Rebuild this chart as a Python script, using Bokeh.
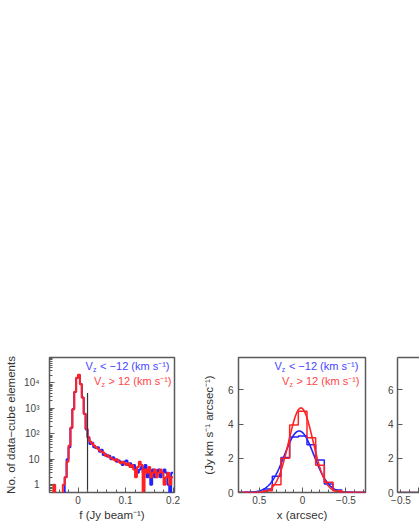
import numpy as np
from bokeh.plotting import figure
from bokeh.layouts import row
from bokeh.models import Range1d, FixedTicker, LinearAxis
from bokeh.core.properties import value
from bokeh.embed import file_html
from bokeh.resources import INLINE

# ---------------- data ----------------
# Panel 1: pixel-value histograms (bins of 0.004 Jy/beam starting at -0.06)
flux_bin_start = -0.06
flux_bin_width = 0.004
counts_neg = [0, 0, 0, 0, 0, 0, 0, 0, 2, 10, 30, 170, 950, 4400, 15500, 20500,
              9200, 2700, 620, 150, 70, 40, 45, 30, 28, 30, 20, 24, 15, 16, 13,
              14, 10, 12, 10, 8, 9, 8, 6, 8, 9, 6, 7, 5, 6, 4, 3, 4, 5, 3, 6, 2,
              4, 1, 4, 2, 3, 4, 2, 3, 4, 3, 1, 0, 3]
counts_pos = [0, 0, 1, 0, 0, 0, 0, 1, 2, 8, 35, 180, 900, 4500, 16000, 21000,
              9000, 2600, 600, 160, 75, 50, 42, 35, 30, 26, 22, 20, 18, 14, 15,
              12, 11, 10, 9, 10, 8, 7, 8, 7, 6, 7, 5, 6, 4, 2, 5, 8, 6, 0, 4, 3,
              5, 2, 3, 4, 2, 3, 4, 3, 1, 2, 3, 1, 2]
flux_threshold = 0.02
flux_threshold_top = 4000
flux_ticks = [0, 0.1, 0.2]
flux_tick_labels = ["0", "0.1", "0.2"]
count_ticks = [1, 10, 100, 1000, 10000]
count_tick_labels = ["1", "10", "10²", "10³", "10⁴"]

# Panel 2: spatial profiles (bins of 0.1 arcsec)
offset_centers = [-0.7, -0.6, -0.5, -0.4, -0.3, -0.2, -0.1, 0.0, 0.1, 0.2, 0.3, 0.4, 0.5, 0.6, 0.7]
offset_bin_width = 0.1
profile_neg = [0, 0, 0, 0.15, 0.5, 1.9, 2.8, 3.3, 3.25, 2.05, 0.95, 0.2, 0, 0, 0]
profile_pos = [0, 0, 0, 0.1, 0.6, 1.6, 3.2, 4.75, 3.95, 2.0, 0.45, 0.1, 0, 0, 0]
fit_neg = dict(amp=3.6, mean=0.04, sigma=0.17)
fit_pos = dict(amp=4.95, mean=0.02, sigma=0.14)
offset_ticks = [-0.5, 0, 0.5]
offset_tick_labels = ["−0.5", "0", "0.5"]
profile_ticks = [0, 2, 4, 6]

# Panel 3 (cut off at the page edge): only its empty edge is visible
panel3_centers = [-0.7, -0.6, -0.5]
panel3_neg = [0, 0, 0]
panel3_pos = [0, 0, 0]

legend_v = "V"
legend_sub = "z"
legend_rel = ["< −12 (km s⁻¹)", "> 12 (km s⁻¹)"]

# ---------------- style ----------------
FONT = "Liberation Sans"
FRAME = "#5a5a5a"
BLUE = "#2222ff"
RED = "#ff2222"
BLUE_T = "#4646ff"
RED_T = "#ff4646"
H = 523
TOP = 357
BOT = 29


def base_fig(width, xr, yr, left, right, y_type="linear"):
    p = figure(width=width, height=H, x_range=xr, y_range=yr, y_axis_type=y_type,
               output_backend="svg", toolbar_location=None,
               min_border_left=left, min_border_right=right,
               min_border_top=TOP, min_border_bottom=BOT)
    p.grid.visible = False
    p.outline_line_color = FRAME
    p.outline_line_width = 1.5
    for ax in (p.xaxis[0], p.yaxis[0]):
        ax.axis_line_color = None
        ax.major_tick_in = 5
        ax.major_tick_out = 0
        ax.minor_tick_in = 3
        ax.minor_tick_out = 0
        ax.major_tick_line_color = FRAME
        ax.minor_tick_line_color = FRAME
        ax.major_label_text_font = FONT
        ax.major_label_text_font_size = "10px"
        ax.major_label_text_color = "#444444"
        ax.axis_label_text_font = FONT
        ax.axis_label_text_font_size = "11.5px"
        ax.axis_label_text_font_style = "normal"
        ax.axis_label_text_color = "#333333"
    return p


def legend(p, x, y, rel, color):
    p.text(x=[x], y=[y], text=[legend_v], text_font=value(FONT), text_font_size="11px",
           text_color=color, text_baseline="middle", text_align="left")
    p.text(x=[x], y=[y], text=[legend_sub], x_offset=7.4, y_offset=3, text_font=value(FONT),
           text_font_size="7px", text_color=color, text_baseline="middle", text_align="left")
    p.text(x=[x], y=[y], text=[rel], x_offset=14.5, text_font=value(FONT),
           text_font_size="11px", text_color=color, text_baseline="middle", text_align="left")


# ---------------- panel 1 ----------------
p1 = base_fig(190, Range1d(-0.06, 0.203), Range1d(0.5, 1e5), 49, 16, "log")
edges1 = [round(flux_bin_start + flux_bin_width * i, 6) for i in range(len(counts_neg) + 1)]
yb = [max(c, 0.1) for c in counts_neg]
yr_ = [max(c, 0.1) for c in counts_pos]
p1.step(edges1, yb + [yb[-1]], mode="after", line_color=BLUE, line_width=2)
p1.step(edges1, yr_ + [yr_[-1]], mode="after", line_color=RED, line_width=2)
p1.segment(x0=[flux_threshold], y0=[0.1], x1=[flux_threshold], y1=[flux_threshold_top],
           line_color="#333333", line_width=1.2)
p1.xaxis[0].ticker = FixedTicker(ticks=flux_ticks,
                                 minor_ticks=[-0.06, -0.04, -0.02, 0.02, 0.04, 0.06, 0.08,
                                              0.12, 0.14, 0.16, 0.18])
p1.xaxis[0].major_label_overrides = dict(zip(flux_ticks, flux_tick_labels))
p1.xaxis[0].major_label_standoff = 3
p1.xaxis[0].axis_label = "f (Jy beam⁻¹)"
p1.xaxis[0].axis_label_standoff = 2
minor_log = [m * 10 ** k for k in range(-1, 5) for m in range(2, 10)]
p1.yaxis[0].ticker = FixedTicker(ticks=count_ticks, minor_ticks=minor_log)
p1.yaxis[0].major_label_overrides = dict(zip(count_ticks, count_tick_labels))
p1.yaxis[0].major_label_standoff = 10
p1.yaxis[0].axis_label = "No. of data−cube elements"
p1.yaxis[0].axis_label_standoff = 4
legend(p1, 0.016, 46000, legend_rel[0], BLUE_T)
legend(p1, 0.0336, 11800, legend_rel[1], RED_T)

# ---------------- panel 2 ----------------
p2 = base_fig(189, Range1d(0.74, -0.725), Range1d(0, 7.9), 48, 14)
edges2 = [round(c - offset_bin_width / 2, 6) for c in offset_centers] + \
         [round(offset_centers[-1] + offset_bin_width / 2, 6)]
xs = np.linspace(-0.75, 0.75, 301)


def gauss(f):
    return f["amp"] * np.exp(-0.5 * ((xs - f["mean"]) / f["sigma"]) ** 2)


p2.step(edges2, profile_neg + [profile_neg[-1]], mode="after", line_color=BLUE, line_width=1.5)
p2.line(xs, gauss(fit_neg), line_color=BLUE, line_width=1.6)
p2.step(edges2, profile_pos + [profile_pos[-1]], mode="after", line_color=RED, line_width=1.5)
p2.line(xs, gauss(fit_pos), line_color=RED, line_width=1.6)
p2.xaxis[0].ticker = FixedTicker(ticks=offset_ticks,
                                 minor_ticks=[-0.7, -0.6, -0.4, -0.3, -0.2, -0.1,
                                              0.1, 0.2, 0.3, 0.4, 0.6, 0.7])
p2.xaxis[0].major_label_overrides = dict(zip(offset_ticks, offset_tick_labels))
p2.xaxis[0].major_label_standoff = 3
p2.xaxis[0].axis_label = "x (arcsec)"
p2.xaxis[0].axis_label_standoff = 2
p2.yaxis[0].ticker = FixedTicker(ticks=profile_ticks, minor_ticks=[])
p2.yaxis[0].major_label_standoff = 5
p2.yaxis[0].axis_label = "(Jy km s⁻¹ arcsec⁻¹)"
p2.yaxis[0].axis_label_standoff = 10
legend(p2, 0.326, 7.39, legend_rel[0], BLUE_T)
legend(p2, 0.238, 6.51, legend_rel[1], RED_T)

# ---------------- panel 3 (cut at page edge) ----------------
p3 = base_fig(40, Range1d(-0.74, -0.486), Range1d(0, 7.9), 18, 0)
p3.outline_line_color = None
edges3 = [round(c - offset_bin_width / 2, 6) for c in panel3_centers] + \
         [round(panel3_centers[-1] + offset_bin_width / 2, 6)]
p3.step(edges3, panel3_neg + [panel3_neg[-1]], mode="after", line_color=BLUE, line_width=1.5)
p3.step(edges3, panel3_pos + [panel3_pos[-1]], mode="after", line_color=RED, line_width=1.5)
for ax in (p3.xaxis[0], p3.yaxis[0]):
    ax.axis_line_color = FRAME
    ax.axis_line_width = 1.5
p3.xaxis[0].ticker = FixedTicker(ticks=offset_ticks,
                                 minor_ticks=[-0.7, -0.6, -0.4, -0.3, -0.2, -0.1])
p3.xaxis[0].major_label_overrides = dict(zip(offset_ticks, offset_tick_labels))
p3.xaxis[0].major_label_standoff = 3
p3.yaxis[0].ticker = FixedTicker(ticks=profile_ticks, minor_ticks=[])
p3.yaxis[0].major_label_standoff = 4
top_ax = LinearAxis(axis_line_color=FRAME, axis_line_width=1.5,
                    major_tick_line_color=None, minor_tick_line_color=None,
                    major_label_text_color=None, ticker=FixedTicker(ticks=[]))
p3.add_layout(top_ax, "above")

layout = row(p1, p2, p3)
open("out.html", "w").write(file_html(layout, INLINE))
